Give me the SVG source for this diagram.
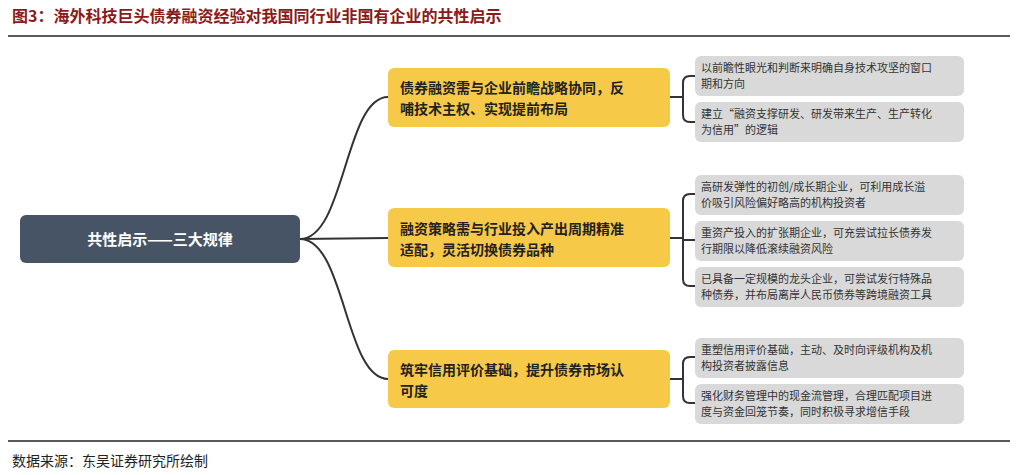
<svg xmlns="http://www.w3.org/2000/svg" width="1018" height="475" viewBox="0 0 1018 475">
<style>
.t{font-family:"Noto Sans CJK SC","Noto Sans",sans-serif}
.title{font-size:16px;font-weight:bold;fill:#8b1a1a}
.y rect{fill:#f7c948}
.y text{font-size:14px;font-weight:bold;fill:#222}
.g rect{fill:#d9d9d9}
.g text{font-size:11px;fill:#333}
.c path{fill:none;stroke:#333;stroke-width:2}
</style>
<rect width="1018" height="475" fill="#fff"/>
<text class="t title" x="12" y="22">图3：海外科技巨头债券融资经验对我国同行业非国有企业的共性启示</text>
<line x1="8" y1="36" x2="1010" y2="36" stroke="#222" stroke-width="1.5"/>
<line x1="8" y1="441" x2="1010" y2="441" stroke="#222" stroke-width="1.5"/>
<text class="t" x="12" y="466" font-size="14" fill="#222">数据来源：东吴证券研究所绘制</text>
<g class="c">
<path d="M300 239 C345 239 345 97 388 97"/>
<path d="M300 239 L388 238"/>
<path d="M300 239 C345 239 345 379 388 379"/>
<path d="M670 97 L683 97 M696 76 L690 76 Q683 76 683 83 L683 115 Q683 122 690 122 L696 122"/>
<path d="M670 238 L683 238 M696 194 L690 194 Q683 194 683 201 L683 279 Q683 286 690 286 L696 286 M683 240 L696 240"/>
<path d="M670 379 L683 379 M696 357 L690 357 Q683 357 683 364 L683 396 Q683 403 690 403 L696 403"/>
</g>
<g id="root"><rect x="20" y="215" width="280" height="48" rx="6" fill="#475466"/><text class="t" x="160" y="245" text-anchor="middle" font-size="15" font-weight="bold" fill="#fff">共性启示——三大规律</text></g>
<g id="n1" class="y"><rect x="388" y="68" width="282" height="59" rx="6"/><text class="t" x="400" y="93">债券融资需与企业前瞻战略协同，反</text><text class="t" x="400" y="114">哺技术主权、实现提前布局</text></g>
<g id="n2" class="y"><rect x="388" y="208" width="282" height="59" rx="6"/><text class="t" x="400" y="234">融资策略需与行业投入产出周期精准</text><text class="t" x="400" y="255">适配，灵活切换债券品种</text></g>
<g id="n3" class="y"><rect x="388" y="350" width="282" height="58" rx="6"/><text class="t" x="400" y="375">筑牢信用评价基础，提升债券市场认</text><text class="t" x="400" y="396">可度</text></g>
<g id="b1" class="g"><rect x="695" y="56" width="269" height="40" rx="6"/><text class="t" x="701" y="72">以前瞻性眼光和判断来明确自身技术攻坚的窗口</text><text class="t" x="701" y="88">期和方向</text></g>
<g id="b2" class="g"><rect x="695" y="102" width="269" height="40" rx="6"/><text class="t" x="701" y="118">建立“融资支撑研发、研发带来生产、生产转化</text><text class="t" x="701" y="134">为信用”的逻辑</text></g>
<g id="b3" class="g"><rect x="695" y="175" width="269" height="40" rx="6"/><text class="t" x="701" y="191">高研发弹性的初创/成长期企业，可利用成长溢</text><text class="t" x="701" y="207">价吸引风险偏好略高的机构投资者</text></g>
<g id="b4" class="g"><rect x="695" y="221" width="269" height="40" rx="6"/><text class="t" x="701" y="237">重资产投入的扩张期企业，可充尝试拉长债券发</text><text class="t" x="701" y="253">行期限以降低滚续融资风险</text></g>
<g id="b5" class="g"><rect x="695" y="267" width="269" height="40" rx="6"/><text class="t" x="701" y="283">已具备一定规模的龙头企业，可尝试发行特殊品</text><text class="t" x="701" y="299">种债券，并布局离岸人民币债券等跨境融资工具</text></g>
<g id="b6" class="g"><rect x="695" y="338" width="269" height="40" rx="6"/><text class="t" x="701" y="354">重塑信用评价基础，主动、及时向评级机构及机</text><text class="t" x="701" y="370">构投资者披露信息</text></g>
<g id="b7" class="g"><rect x="695" y="384" width="269" height="40" rx="6"/><text class="t" x="701" y="400">强化财务管理中的现金流管理，合理匹配项目进</text><text class="t" x="701" y="416">度与资金回笼节奏，同时积极寻求增信手段</text></g>
</svg>
